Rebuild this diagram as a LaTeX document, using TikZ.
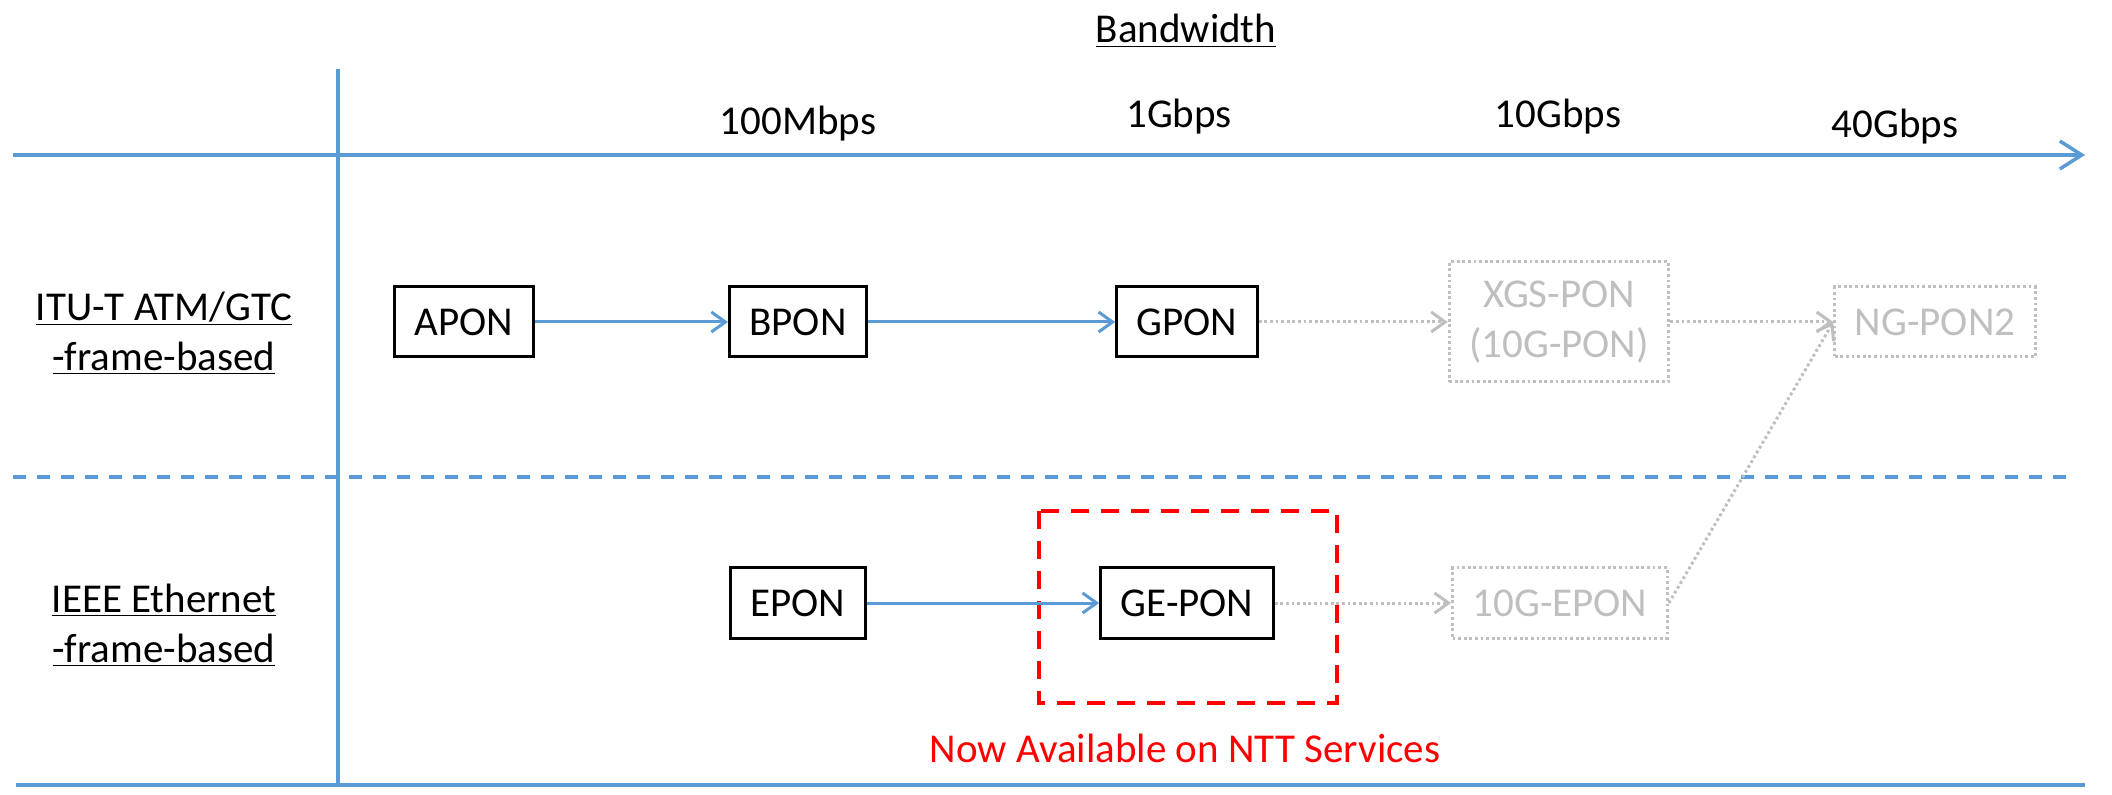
\documentclass[tikz,border=0pt]{standalone}
\usepackage{fontspec}
\setmainfont{Carlito}
\usetikzlibrary{arrows.meta}
\definecolor{axisblue}{RGB}{91,155,213}
\definecolor{futuregray}{RGB}{191,191,191}

\begin{document}
\begin{tikzpicture}[x=0.5pt, y=-0.5pt,
  font=\fontsize{20.5}{25}\selectfont,
  axis/.style={axisblue, line width=1.75pt},
  pon/.style={draw, line width=1.5pt, minimum height=35pt, inner xsep=10pt},
  future/.style={draw=futuregray, text=futuregray, line width=1.5pt, dash pattern=on 1.4pt off 1.4pt,
    minimum height=35pt, inner xsep=10pt, align=center},
  evolve/.style={axisblue, line width=1.5pt, -{Straight Barb[length=7pt,width=10pt]}},
  planned/.style={futuregray, line width=1.5pt, dash pattern=on 1.4pt off 1.4pt, -{Straight Barb[length=7pt,width=10pt]}}]
  \useasboundingbox (0,0) rectangle (2112,795);
  % Draw the axes
  \draw[axis, -{Straight Barb[length=11pt,width=14pt]}] (13,155) -- (2085,155);
  \draw[axis] (338,69) -- (338,785);
  \draw[axis] (16,785) -- (2085,785);
  \draw[axis, dash pattern=on 6.5pt off 5.5pt] (13,477) -- (2067,477);
  \node[anchor=base] (bwlabel) at (1186,43) {\underline{Bandwidth}};
  \node[anchor=base] (r100m) at (798,135) {100Mbps};
  \node[anchor=base] (r1g) at (1179,128) {1Gbps};
  \node[anchor=base] (r10g) at (1558,128) {10Gbps};
  \node[anchor=base] (r40g) at (1895,138) {40Gbps};
  \node[align=center] (itut) at (164,333) {\underline{ITU-T ATM/GTC}\\\underline{-frame-based}};
  \node[align=center] (ieee) at (164,625) {\underline{IEEE Ethernet}\\\underline{-frame-based}};
  % Draw the PON generations
  \node[pon] (apon) at (464,322) {APON};
  \node[pon] (bpon) at (798,322) {BPON};
  \node[pon] (gpon) at (1187,322) {GPON};
  \node[future, minimum height=60pt] (xgspon) at (1559,322) {XGS-PON\\(10G-PON)};
  \node[future] (ngpon2) at (1935,322) {NG-PON2};
  \node[pon] (epon) at (798,603) {EPON};
  \node[pon] (gepon) at (1187,603) {GE-PON};
  \node[future] (epon10g) at (1560,603) {10G-EPON};
  \draw[red, line width=2.3pt, dash pattern=on 9pt off 6pt] (1039,511) rectangle (1337,703);
  \node[red, anchor=base] (nttnote) at (1185,762) {Now Available on NTT Services};
  % Draw the evolution arrows
  \draw[evolve] (apon) -- (bpon);
  \draw[evolve] (bpon) -- (gpon);
  \draw[evolve] (epon) -- (gepon);
  \draw[planned] (gpon) -- (xgspon);
  \draw[planned] (xgspon) -- (ngpon2);
  \draw[planned] (gepon) -- (epon10g);
  \draw[planned] (epon10g.east) -- (ngpon2.west);
\end{tikzpicture}
\end{document}
